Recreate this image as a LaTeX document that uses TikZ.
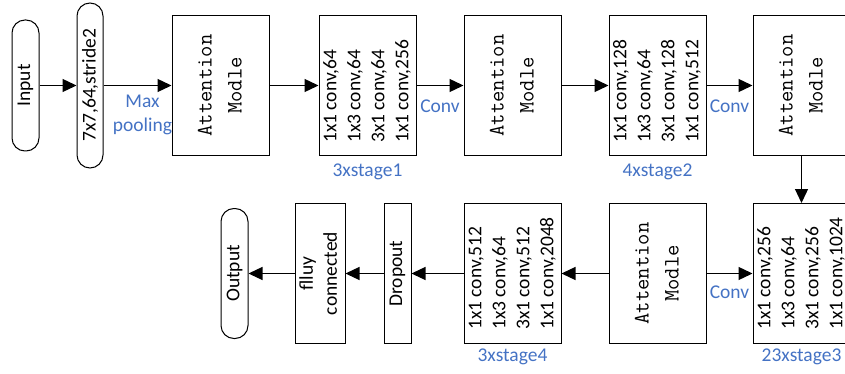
\documentclass[tikz,border=0pt]{standalone}
\usepackage{fontspec}
\setmainfont{Carlito}
\usepackage{graphicx}
\usetikzlibrary{positioning,arrows.meta}
\definecolor{lblblue}{HTML}{4472C4}

\begin{document}
\begin{tikzpicture}[x=1pt, y=1pt, node distance=145pt,
    every node/.style={font=\fontsize{19.5}{24}\selectfont, inner sep=0pt},
    pill/.style={rectangle, draw, rounded corners=13pt, line width=1pt, minimum width=27pt},
    block/.style={rectangle, draw, line width=1pt, minimum width=97pt, minimum height=140pt},
    attn/.style={block, font=\ttfamily\fontsize{22}{30}\selectfont},
    note/.style={text=lblblue, inner sep=3.33pt, align=center},
    arr/.style={-{Triangle[length=14pt,width=13pt]}, line width=1.3pt}]
    \useasboundingbox (0,0) rectangle (845,-374);

    % top row
    \node [pill, minimum height=131pt] (inp) at (25.5,-85.5) {\rotatebox{90}{Input}};
    \node [pill, minimum width=26pt, minimum height=165pt, right of=inp, node distance=64.5pt] (c7) {\rotatebox{90}{7x7,64,stride2}};
    \node [attn, right of=c7, node distance=130.5pt] (am1) {\rotatebox{90}{\begin{tabular}{@{}c@{}}Attention\\Modle\end{tabular}}};
    \node [block, right of=am1, node distance=147pt] (s1) {\rotatebox{90}{\begin{tabular}{@{}l@{}}1x1 conv,64\\1x3 conv,64\\3x1 conv,64\\1x1 conv,256\end{tabular}\hspace{12pt}}};
    \node [attn, right of=s1] (am2) {\rotatebox{90}{\begin{tabular}{@{}c@{}}Attention\\Modle\end{tabular}}};
    \node [block, right of=am2] (s2) {\rotatebox{90}{\begin{tabular}{@{}l@{}}1x1 conv,128\\1x3 conv,64\\3x1 conv,128\\1x1 conv,512\end{tabular}\hspace{12pt}}};
    \node [attn, right of=s2, node distance=144pt] (am3) {\rotatebox{90}{\begin{tabular}{@{}c@{}}Attention\\Modle\end{tabular}}};

    % bottom row, running back to the left
    \node [block, below of=am3, node distance=188pt] (s3) {\rotatebox{90}{\begin{tabular}{@{}l@{}}1x1 conv,256\\1x3 conv,64\\3x1 conv,256\\1x1 conv,1024\end{tabular}}};
    \node [attn, left of=s3, node distance=144pt] (am4) {\rotatebox{90}{\begin{tabular}{@{}c@{}}Attention\\Modle\end{tabular}}};
    \node [block, left of=am4] (s4) {\rotatebox{90}{\begin{tabular}{@{}l@{}}1x1 conv,512\\1x3 conv,64\\3x1 conv,512\\1x1 conv,2048\end{tabular}}};
    \node [block, minimum width=27pt, left of=s4, node distance=115pt] (dp) {\rotatebox{90}{Dropout}};
    \node [block, minimum width=50pt, left of=dp, node distance=77.5pt] (fc) {\rotatebox{90}{\begin{tabular}{@{}c@{}}flluy\\connected\end{tabular}}};
    \node [pill, minimum height=130pt, left of=fc, node distance=85.5pt] (out) {\rotatebox{90}{Output}};

    % stage counts
    \node [note, below=4pt of s1] (s1l) {3xstage1};
    \node [note, below=4pt of s2] (s2l) {4xstage2};
    \node [note, below=1pt of s3] (s3l) {23xstage3};
    \node [note, below=1pt of s4] (s4l) {3xstage4};

    \draw [arr] (inp) -- (c7);
    \draw [arr] (c7) -- node[note, below=6pt, xshift=5pt] (mp) {Max\\pooling} (am1);
    \draw [arr] (am1) -- (s1);
    \draw [arr] (s1) -- node[note, below=10pt] (cv1) {Conv} (am2);
    \draw [arr] (am2) -- (s2);
    \draw [arr] (s2) -- node[note, below=10pt] (cv2) {Conv} (am3);
    \draw [arr] (am3) -- (s3);
    \draw [arr] (am4) -- node[note, below=8pt] (cv3) {Conv} (s3);
    \draw [arr] (am4) -- (s4);
    \draw [arr] (s4) -- (dp);
    \draw [arr] (dp) -- (fc);
    \draw [arr] (fc) -- (out);
\end{tikzpicture}
\end{document}
